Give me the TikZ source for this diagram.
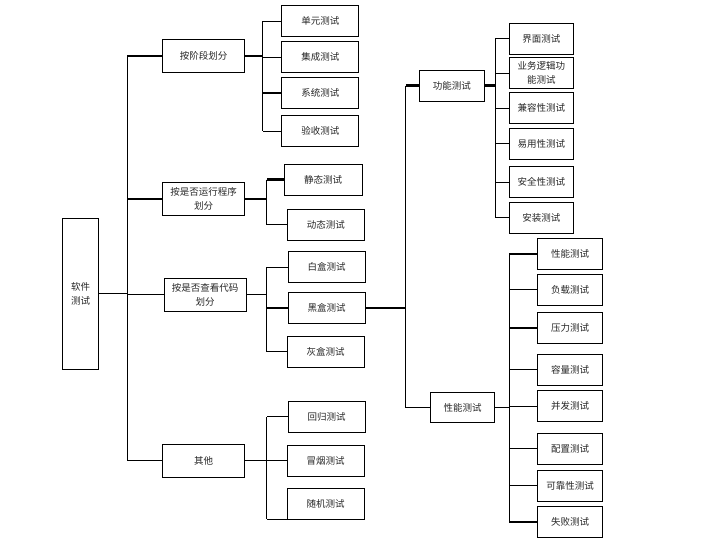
\documentclass[tikz,border=0pt]{standalone}
\usepackage{fontspec}
\newfontfamily\cjk{Noto Sans CJK SC}
\begin{document}
\begin{tikzpicture}[x=1pt,y=-1pt,
  box/.style={draw=black,line width=0.8pt,inner sep=0pt,align=center,
    font=\cjk\fontsize{9.5}{14.5}\selectfont,text=black!85},
  la/.style={box,minimum width=81.6pt,minimum height=33pt},
  lb/.style={box,minimum width=77pt,minimum height=31pt},
  lc/.style={box,minimum width=64.5pt,minimum height=31pt},
  ln/.style={line width=0.8pt},
  tk/.style={line width=2.2pt}]
\useasboundingbox (0,0) rectangle (703,544);
% root
\node[box,minimum width=35.6pt,minimum height=151pt] (root) at (80.5,293.8) {软件\\测试};
% level 1
\node[la] (a1) at (203.5,55.8) {按阶段划分};
\node[la,minimum height=32.3pt] (a2) at (203.5,198.9) {按是否运行程序\\划分};
\node[la,minimum width=82pt] (a3) at (205,294.7) {按是否查看代码\\划分};
\node[la] (a4) at (203.5,460.7) {其他};
% level 2 left
\node[lb] (b1) at (320.3,21.2) {单元测试};
\node[lb] (b2) at (320.3,57) {集成测试};
\node[lb] (b3) at (320.3,92.8) {系统测试};
\node[lb] (b4) at (320.3,131.2) {验收测试};
\node[lb,minimum width=78.3pt] (c1) at (323.2,179.5) {静态测试};
\node[lb] (c2) at (325.8,224.7) {动态测试};
\node[lb] (d1) at (326.7,267) {白盒测试};
\node[lb] (d2) at (326.7,307.7) {黑盒测试};
\node[lb] (d3) at (325.7,351.7) {灰盒测试};
\node[lb] (e1) at (326.7,416.8) {回归测试};
\node[lb] (e2) at (325.7,460.5) {冒烟测试};
\node[lb] (e3) at (325.7,503.5) {随机测试};
% black box branch
\node[lc,minimum width=65pt] (f1) at (451.8,85.5) {功能测试};
\node[lc,minimum width=63.6pt,minimum height=30.4pt] (f2) at (462.5,407.5) {性能测试};
\node[lc,minimum width=64pt] (g1) at (541.3,38.8) {界面测试};
\node[lc,minimum width=64pt] (g2) at (541.3,73) {业务逻辑功\\能测试};
\node[lc,minimum width=64pt] (g3) at (541.3,108.3) {兼容性测试};
\node[lc,minimum width=64pt] (g4) at (541.3,143.8) {易用性测试};
\node[lc,minimum width=64pt] (g5) at (541.3,182.2) {安全性测试};
\node[lc,minimum width=64pt] (g6) at (541.3,217.8) {安装测试};
\node[lc] (h1) at (570,253.8) {性能测试};
\node[lc] (h2) at (570,289.7) {负载测试};
\node[lc] (h3) at (570,328) {压力测试};
\node[lc] (h4) at (570,369.5) {容量测试};
\node[lc] (h5) at (570,406.2) {并发测试};
\node[lc] (h6) at (570,448.8) {配置测试};
\node[lc] (h7) at (570,485.8) {可靠性测试};
\node[lc] (h8) at (570,522) {失败测试};
% bracket coordinates
\coordinate (M) at (127.3,0);
\coordinate (B1) at (262.7,0);
\coordinate (B2) at (266.7,0);
\coordinate (F) at (405.7,0);
\coordinate (G) at (495,0);
\coordinate (H) at (509.3,0);
% main bracket
\draw[ln] (a1.west -| M) -- (a4.west -| M);
\draw[ln] (root.east) -- (root.east -| M);
\draw[tk] (a1.west) -- (a1.west -| M);
\draw[tk] (a2.west) -- (a2.west -| M);
\draw[ln] (a3.west) -- (a3.west -| M);
\draw[ln] (a4.west) -- (a4.west -| M);
% group 1
\draw[tk] (a1.east) -- (a1.east -| B1);
\draw[ln] (b1.west -| B1) -- (b4.west -| B1);
\draw[ln] (b1.west) -- (b1.west -| B1);
\draw[ln] (b2.west) -- (b2.west -| B1);
\draw[tk] (b3.west) -- (b3.west -| B1);
\draw[ln] (b4.west) -- (b4.west -| B1);
% group 2
\draw[tk] (a2.east) -- (a2.east -| B2);
\draw[ln] (c1.west -| B2) -- (c2.west -| B2);
\draw[tk] (c1.west) -- (c1.west -| B2);
\draw[ln] (c2.west) -- (c2.west -| B2);
% group 3
\draw[ln] (a3.east) -- (a3.east -| B2);
\draw[ln] (d1.west -| B2) -- (d3.west -| B2);
\draw[ln] (d1.west) -- (d1.west -| B2);
\draw[tk] (d2.west) -- (d2.west -| B2);
\draw[ln] (d3.west) -- (d3.west -| B2);
% group 4
\draw[ln] (a4.east) -- (a4.east -| B2);
\draw[ln] (e1.west -| B2) -- (e3.south west -| B2);
\draw[ln] (e1.west) -- (e1.west -| B2);
\draw[ln] (e2.west) -- (e2.west -| B2);
\draw[ln] (e3.south west) -- (e3.south west -| B2);
% black box
\draw[tk] (d2.east) -- (d2.east -| F);
\draw[ln] (f1.west -| F) -- (f2.west -| F);
\draw[tk] (f1.west) -- (f1.west -| F);
\draw[ln] (f2.west) -- (f2.west -| F);
% functional
\draw[tk] (f1.east) -- (f1.east -| G);
\draw[ln] (g1.west -| G) -- (g6.west -| G);
\foreach \n in {g1,g2,g3,g4,g5,g6} \draw[ln] (\n.west) -- (\n.west -| G);
% performance
\draw[ln] (f2.east) -- (f2.east -| H);
\draw[ln] (h1.west -| H) -- (h8.west -| H);
\foreach \n in {h2,h4,h5,h6,h7} \draw[ln] (\n.west) -- (\n.west -| H);
\foreach \n in {h1,h3,h8} \draw[tk] (\n.west) -- (\n.west -| H);
\end{tikzpicture}
\end{document}
